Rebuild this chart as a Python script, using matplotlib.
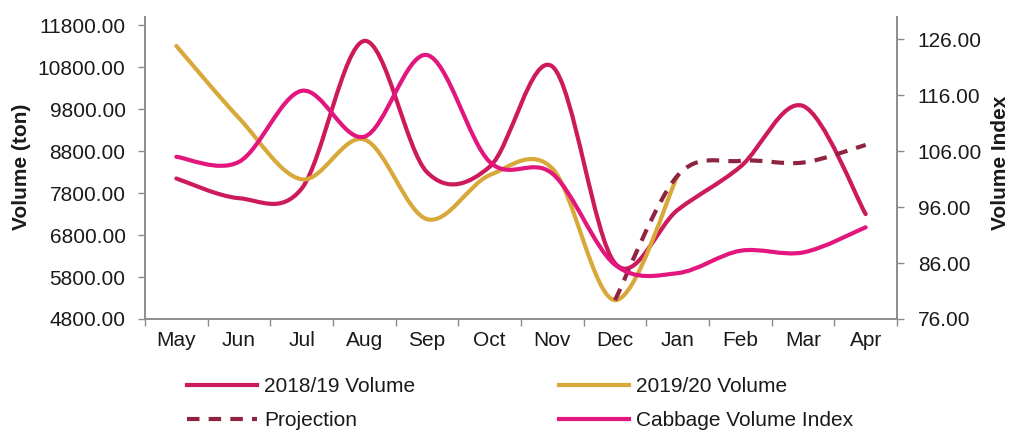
import numpy as np
import matplotlib
matplotlib.use("Agg")
import matplotlib.pyplot as plt
from matplotlib.path import Path
from matplotlib.patches import PathPatch
from matplotlib.lines import Line2D

plt.rcParams["font.family"] = ["Liberation Sans", "DejaVu Sans"]

months = ["May", "Jun", "Jul", "Aug", "Sep", "Oct", "Nov", "Dec", "Jan", "Feb", "Mar", "Apr"]
nan = np.nan
vol_1819 = [8150, 7680, 7910, 11430, 8300, 8430, 10820, 6130, 7400, 8430, 9880, 7300]
vol_1920 = [11310, 9590, 8130, 9080, 7180, 8230, 8390, 5250, 8220, nan, nan, nan]
projection = [nan, nan, nan, nan, nan, nan, nan, 5250, 8220, 8570, 8530, 8950]
cabbage_idx = [105.0, 104.1, 116.8, 108.6, 123.2, 104.1, 102.0, 85.7, 84.2, 88.2, 87.9, 92.4]

C_1819 = "#CC1A5C"
C_1920 = "#D8A93A"
C_PROJ = "#8E2440"
C_IDX = "#E3167E"
AXIS = "#8c8c8c"
TEXT = "#1a1a1a"
FS = 15


def smooth_path(ys):
    """Excel 스타일 스무딩 곡선 (Catmull-Rom → 3차 베지어)."""
    ys = np.asarray(ys, dtype=float)
    xs = np.arange(len(ys), dtype=float)
    ok = ~np.isnan(ys)
    pts = np.column_stack([xs[ok], ys[ok]])
    n = len(pts)
    verts = [pts[0]]
    codes = [Path.MOVETO]
    for i in range(n - 1):
        p0 = pts[max(i - 1, 0)]
        p1, p2 = pts[i], pts[i + 1]
        p3 = pts[min(i + 2, n - 1)]
        verts += [p1 + (p2 - p0) / 6, p2 - (p3 - p1) / 6, p2]
        codes += [Path.CURVE4] * 3
    return Path(verts, codes)


fig = plt.figure(figsize=(10.17, 4.33), dpi=100)
ax = fig.add_axes([0.1426, 0.2633, 0.7394, 0.6974])
ax2 = ax.twinx()

DASH = (0, (3, 2.2))
series = [
    (ax, vol_1819, C_1819, "-"),
    (ax, vol_1920, C_1920, "-"),
    (ax, projection, C_PROJ, DASH),
    (ax2, cabbage_idx, C_IDX, "-"),
]
for a, ys, color, ls in series:
    patch = PathPatch(smooth_path(ys), fill=False, edgecolor=color, lw=3,
                      linestyle=ls, capstyle="round" if ls == "-" else "butt",
                      joinstyle="round")
    a.add_patch(patch)

ax.set_xlim(-0.5, len(months) - 0.5)
ax.set_ylim(4800, 12000)
ax2.set_ylim(76, 130)

ax.set_yticks(np.arange(4800, 11801, 1000))
ax.set_yticklabels([f"{v:.2f}" for v in np.arange(4800, 11801, 1000)])
ax2.set_yticks(np.arange(76, 127, 10))
ax2.set_yticklabels([f"{v:.2f}" for v in np.arange(76, 127, 10)])

ax.set_xticks(np.arange(len(months)))
ax.set_xticklabels(months)
ax.set_xticks(np.arange(-0.5, len(months)), minor=True)
ax.tick_params(axis="x", which="major", length=0, pad=9, labelsize=FS, labelcolor=TEXT)
ax.tick_params(axis="x", which="minor", length=5, width=1, color=AXIS, direction="out")
ax.tick_params(axis="y", length=5, width=1, color=AXIS, pad=9, labelsize=FS, labelcolor=TEXT)
ax2.tick_params(axis="y", length=5, width=1, color=AXIS, pad=10, labelsize=FS, labelcolor=TEXT)

for a in (ax, ax2):
    a.spines["top"].set_visible(False)
    for s in ("left", "right", "bottom"):
        a.spines[s].set_color(AXIS)
        a.spines[s].set_linewidth(1.2)

fig.text(22 / 1017, 1 - 167 / 433, "Volume (ton)", rotation=90, ha="center", va="center",
         fontsize=FS, fontweight="bold", color=TEXT)
fig.text(1001 / 1017, 1 - 163 / 433, "Volume Index", rotation=90, ha="center", va="center",
         fontsize=FS, fontweight="bold", color=TEXT)

handles = [
    Line2D([], [], color=C_1819, lw=3),
    Line2D([], [], color=C_PROJ, lw=3, linestyle=DASH),
    Line2D([], [], color=C_1920, lw=3),
    Line2D([], [], color=C_IDX, lw=3),
]
labels = ["2018/19 Volume", "Projection", "2019/20 Volume", "Cabbage Volume Index"]
fig.legend(handles, labels, ncol=2, loc="center left", bbox_to_anchor=(187 / 1017, 1 - 404 / 433),
           frameon=False, fontsize=FS, handlelength=3.36, handletextpad=0.34,
           columnspacing=6.9, labelspacing=0.72, borderpad=0, borderaxespad=0,
           labelcolor=TEXT)

fig.savefig("out.png", dpi=100, facecolor="white")
